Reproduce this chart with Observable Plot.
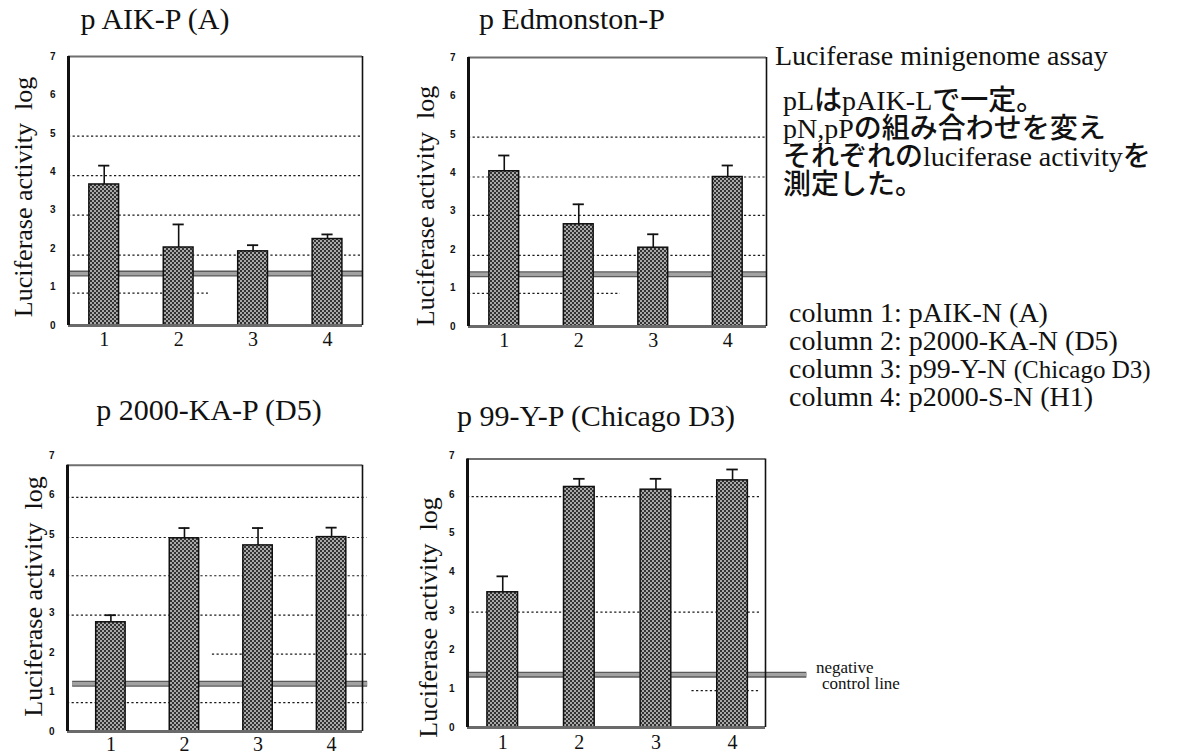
<!DOCTYPE html>
<html><head><meta charset="utf-8">
<script src="https://cdn.jsdelivr.net/npm/d3@7"></script>
<script src="https://cdn.jsdelivr.net/npm/@observablehq/plot@0.6"></script>
<style>
body{margin:0;background:#fff;}
#root{position:relative;width:1189px;height:756px;overflow:hidden;background:#fff;}
#root svg{position:absolute;overflow:visible;}
</style></head><body><div id="root"></div>
<script>
// ---- data ----
const columns = [1, 2, 3, 4];
const yTicks = [0, 1, 2, 3, 4, 5, 6, 7];
const panelTitles = ["p AIK-P (A)", "p Edmonston-P", "p 2000-KA-P (D5)", "p 99-Y-P (Chicago D3)"];
const yAxisLabel = "Luciferase activity\u00a0 log";

const meanAIK = [3.67, 2.03, 1.93, 2.25];
const errAIK  = [4.16, 2.63, 2.09, 2.37];
const meanEdm = [4.04, 2.66, 2.05, 3.89];
const errEdm  = [4.45, 3.18, 2.40, 4.19];
const meanKA  = [2.77, 4.90, 4.72, 4.93];
const errKA   = [2.95, 5.16, 5.16, 5.17];
const meanChi = [3.48, 6.19, 6.12, 6.36];
const errChi  = [3.89, 6.40, 6.40, 6.64];

const negControl = [1.35, 1.36, 1.21, 1.36];

// dotted reference lines (value, optional horizontal extent in column units)
const gridAIK = [{y: 4.93}, {y: 3.90}, {y: 2.87}, {y: 1.83}, {y: 0.84, x2: 2.4}];
const gridEdm = [{y: 4.93}, {y: 3.89}, {y: 2.89}, {y: 1.85}, {y: 0.86, x2: 2.56}];
const gridKA  = [{y: 5.94, x2: 4.48}, {y: 4.92, x2: 4.48}, {y: 3.95, x2: 4.48}, {y: 2.95, x2: 4.48}, {y: 1.96, x1: 2.38, x2: 4.48}, {y: 0.73, x2: 4.48}];
const gridChi = [{y: 5.94, x2: 4.36}, {y: 2.97, x2: 4.36}, {y: 0.95, x1: 3.47, x2: 4.36}];

const infoTitle = "Luciferase minigenome assay";
const infoLines = ["pLはpAIK-Lで一定。", "pN,pPの組み合わせを変え", "それぞれのluciferase activityを", "測定した。"];
const columnKeys = ["column 1: pAIK-N (A)", "column 2: p2000-KA-N (D5)", "column 3: p99-Y-N ", "column 4: p2000-S-N (H1)"];
const columnKeyNote = ["", "", "(Chicago D3)", ""];
const ctrlLabel = ["negative", "control line"];

// ---- layout ----
const panels = [
  {mean: meanAIK, err: errAIK, grid: gridAIK, left: 0,   top: 40,  width: 380, height: 320, ml: 68, mr: 18, mt: 16, mb: 35, xd: [0.52, 4.47], frameTop: 7,    ctrlX: null, labDx: -45, labDy: 6,  xLabDy: 20},
  {mean: meanEdm, err: errEdm, grid: gridEdm, left: 380, top: 40,  width: 400, height: 320, ml: 88, mr: 14, mt: 17, mb: 34, xd: [0.52, 4.52], frameTop: 7,    ctrlX: null, labDx: -43, labDy: 14, xLabDy: 20},
  {mean: meanKA,  err: errKA,  grid: gridKA,  left: 0,   top: 440, width: 380, height: 316, ml: 67, mr: 18, mt: 15, mb: 25, xd: [0.41, 4.42], frameTop: 6.75, ctrlX: [0.48, 4.49], labDx: -34, labDy: 3, xLabDy: 19},
  {mean: meanChi, err: errChi, grid: gridChi, left: 380, top: 440, width: 440, height: 316, ml: 87, mr: 55, mt: 15, mb: 29, xd: [0.54, 4.43], frameTop: 6.91, ctrlX: [0.54, 4.97], labDx: -39, labDy: 26, xLabDy: 21}
];

const root = document.getElementById("root");
const serif = "Liberation Serif, Times New Roman, serif";

panels.forEach((p, i) => {
  const data = columns.map((c, k) => ({col: c, value: p.mean[k], err: p.err[k]}));
  const [x0, x1] = p.xd;
  const cx = p.ctrlX || p.xd;
  const svg = Plot.plot({
    width: p.width, height: p.height,
    marginLeft: p.ml, marginRight: p.mr, marginTop: p.mt, marginBottom: p.mb,
    x: {domain: p.xd, axis: null},
    y: {domain: [0, 7], axis: null},
    style: {fontFamily: serif, color: "#111", background: "transparent", overflow: "visible"},
    marks: [
      Plot.ruleY(p.grid, {y: "y", x1: d => d.x1 ?? x0, x2: d => d.x2 ?? x1, stroke: "#1a1a1a", strokeWidth: 1.2, strokeDasharray: "2.2,2.4"}),
      Plot.ruleY([negControl[i]], {x1: cx[0], x2: cx[1], stroke: "#5a5a5a", strokeWidth: 6}),
      Plot.ruleY([negControl[i]], {x1: cx[0], x2: cx[1], stroke: "#a2a2a2", strokeWidth: 3.4}),
      Plot.rect(data, {x1: d => d.col - 0.2, x2: d => d.col + 0.2, y1: () => 0, y2: "value", fill: "#4a4a4a", stroke: "#111", strokeWidth: 1.5}),
      Plot.ruleX(data, {x: "col", y1: "value", y2: "err", stroke: "#111", strokeWidth: 1.6}),
      Plot.ruleY(data, {y: "err", x1: d => d.col - 0.075, x2: d => d.col + 0.075, stroke: "#111", strokeWidth: 1.8}),
      // frame
      Plot.ruleY([p.frameTop], {x1: x0, x2: x1, stroke: "#6f6f6f", strokeWidth: 2}),
      Plot.ruleY([0], {x1: x0, x2: x1, stroke: "#6a6a6a", strokeWidth: 3}),
      Plot.ruleX([x0], {y1: 0, y2: p.frameTop, stroke: "#111", strokeWidth: 3}),
      Plot.ruleX([x1], {y1: 0, y2: p.frameTop, stroke: "#111", strokeWidth: 1.6}),
      // tick labels
      Plot.text(yTicks, {y: d => d, frameAnchor: "left", dx: -13, textAnchor: "end", fontSize: 10, fontWeight: "bold", fontFamily: "Liberation Sans, Arial, sans-serif", fill: "#111"}),
      Plot.text(columns, {x: d => d, frameAnchor: "bottom", dy: p.xLabDy, fontSize: 20, fill: "#111"}),
      Plot.text([yAxisLabel], {frameAnchor: "left", textAnchor: "middle", rotate: -90, dx: p.labDx, dy: p.labDy, fontSize: 26, fill: "#111"})
    ]
  });
  svg.style.left = p.left + "px";
  svg.style.top = p.top + "px";
  const id = "hatch" + i;
  const defs = d3.select(svg).insert("defs", ":first-child");
  const pat = defs.append("pattern").attr("id", id).attr("patternUnits", "userSpaceOnUse").attr("width", 4).attr("height", 4);
  pat.append("rect").attr("width", 4).attr("height", 4).attr("fill", "#333");
  pat.append("circle").attr("cx", 1).attr("cy", 1).attr("r", 0.95).attr("fill", "#dcdcdc");
  pat.append("circle").attr("cx", 3).attr("cy", 3).attr("r", 0.95).attr("fill", "#dcdcdc");
  d3.select(svg).selectAll('g[aria-label="rect"]').attr("fill", `url(#${id})`);
  root.appendChild(svg);
});

// ---- text overlay ----
const ov = d3.select(root).append("svg").attr("width", 1189).attr("height", 756)
  .style("left", "0px").style("top", "0px").style("pointer-events", "none")
  .attr("font-family", serif).attr("fill", "#111");

const titlePos = [[155, 29], [572, 29], [209, 420], [596, 426]];
panelTitles.forEach((t, i) => {
  ov.append("text").attr("x", titlePos[i][0]).attr("y", titlePos[i][1]).attr("text-anchor", "middle").attr("font-size", 30).text(t);
});

ov.append("text").attr("x", 775).attr("y", 65).attr("font-size", 28).text(infoTitle);
const infoY = [110, 138, 166, 194];
infoLines.forEach((t, i) => {
  ov.append("text").attr("x", 783).attr("y", infoY[i]).attr("font-size", 28)
    .attr("font-family", "Liberation Serif, Noto Sans CJK JP, serif").attr("font-weight", 500).text(t);
});
const colY = [322, 350, 378, 406];
columnKeys.forEach((t, i) => {
  const tx = ov.append("text").attr("x", 789).attr("y", colY[i]).attr("font-size", 28);
  tx.append("tspan").text(t);
  if (columnKeyNote[i]) tx.append("tspan").attr("font-size", 25).text(columnKeyNote[i]);
});
ov.append("text").attr("x", 816).attr("y", 673).attr("font-size", 17).text(ctrlLabel[0]);
ov.append("text").attr("x", 822).attr("y", 689).attr("font-size", 17).text(ctrlLabel[1]);
</script></body></html>
